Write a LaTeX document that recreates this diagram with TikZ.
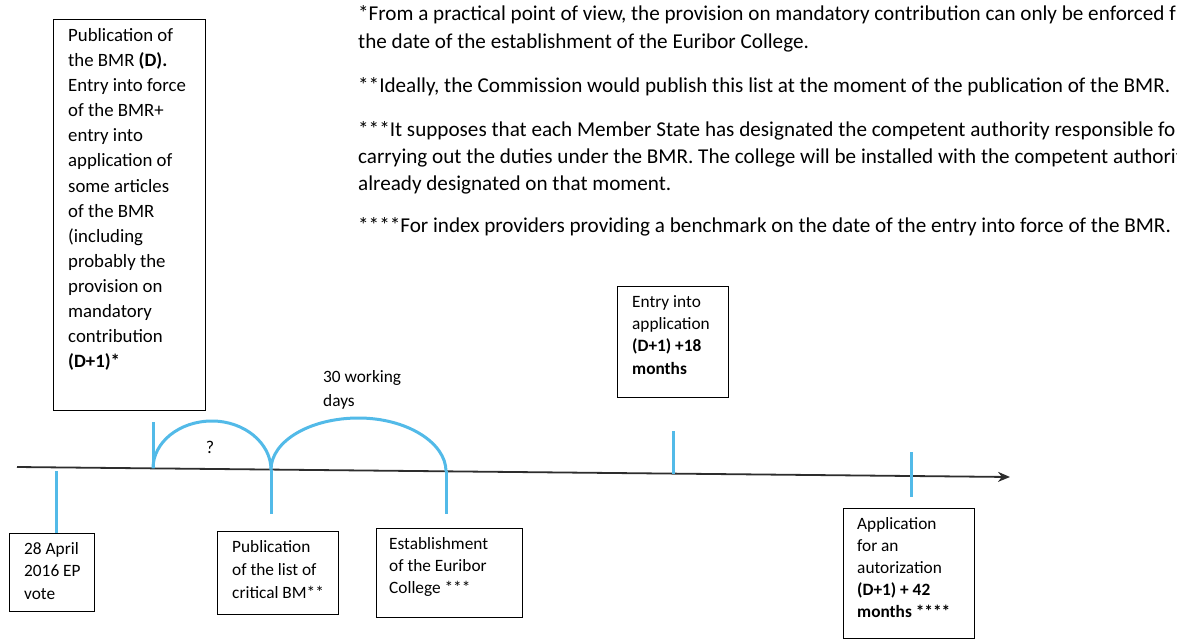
\documentclass[tikz,border=0pt]{standalone}
\usepackage{fontspec}
\setmainfont{Carlito}
\usetikzlibrary{arrows.meta}
\definecolor{tickblue}{RGB}{82,186,232}
\definecolor{axisgray}{RGB}{45,45,45}
\newcommand{\txtblock}[3]{{\fontsize{#1}{#2}\selectfont\begin{tabular}[t]{@{}l@{}}#3\end{tabular}}}
\begin{document}
\begin{tikzpicture}[x=1pt,y=-1pt,
  frame/.style={draw=black,line width=1.4pt,inner sep=0pt,anchor=north west},
  txt/.style={anchor=base west,inner sep=0pt},
  tick/.style={draw=tickblue,line width=3pt},
  axisline/.style={draw=axisgray,line width=1.8pt,-{Stealth[length=12pt,width=10pt]}}]
\useasboundingbox (0,0) rectangle (1177,640);
\fill[white] (0,0) rectangle (1177,640);

% footnotes
\node[txt] (fn1) at (358,20) {\txtblock{21.15pt}{28.5pt}{*From a practical point of view, the provision on mandatory contribution can only be enforced f\\the date of the establishment of the Euribor College.}};
\node[txt] (fn2) at (358,92) {\txtblock{21.15pt}{27.5pt}{**Ideally, the Commission would publish this list at the moment of the publication of the BMR.}};
\node[txt] (fn3) at (358,136) {\txtblock{21.15pt}{27.2pt}{***It supposes that each Member State has designated the competent authority responsible fo\\carrying out the duties under the BMR. The college will be installed with the competent authorit\\already designated on that moment.}};
\node[txt] (fn4) at (358,232) {\txtblock{21.15pt}{27.5pt}{****For index providers providing a benchmark on the date of the entry into force of the BMR.}};

% boxes
\node[frame,minimum width=152pt,minimum height=391pt] (big) at (53,19) {};
\node[txt] (bigt) at (68,41.4) {\txtblock{18.8pt}{25.1pt}{Publication of\\the BMR \textbf{(D).}\\Entry into force\\of the BMR+\\entry into\\application of\\some articles\\of the BMR\\(including\\probably the\\provision on\\mandatory\\contribution\\\textbf{(D+1)*}}};

\node[frame,minimum width=85pt,minimum height=78pt] (vote) at (9,533) {};
\node[txt] (votet) at (24,554) {\txtblock{17.3pt}{22.6pt}{28 April\\2016 EP\\vote}};

\node[frame,minimum width=121pt,minimum height=83pt] (list) at (217,531) {};
\node[txt] (listt) at (232,552) {\txtblock{17.3pt}{23pt}{Publication\\of the list of\\critical BM**}};

\node[frame,minimum width=146pt,minimum height=89pt] (coll) at (376,528) {};
\node[txt] (collt) at (389,549) {\txtblock{17.3pt}{22.2pt}{Establishment\\of the Euribor\\College ***}};

\node[frame,minimum width=111pt,minimum height=111pt] (entry) at (617,286) {};
\node[txt] (entryt) at (632,307) {\txtblock{17.3pt}{22.4pt}{Entry into\\application\\\textbf{(D+1) +18}\\\textbf{months}}};

\node[frame,minimum width=131pt,minimum height=130pt] (appl) at (843,508) {};
\node[txt] (applt) at (857,529) {\txtblock{17.3pt}{22pt}{Application\\for an\\autorization\\\textbf{(D+1) + 42}\\\textbf{months ****}}};

% labels
\node[txt] (days) at (323,382) {\txtblock{17.3pt}{24pt}{30 working\\days}};
\node[inner sep=0pt,font=\fontsize{18pt}{20pt}\selectfont] (q) at (210,447) {?};

% axis
\coordinate (ax0) at (17,467);
\coordinate (ax1) at (1010,477);
\draw[axisline] (ax0) -- (ax1);

% points on axis
\coordinate (pv) at (56,467.4);
\coordinate (pd) at (153,468.4);
\coordinate (pl) at (271,469.6);
\coordinate (pc) at (446,471.3);
\coordinate (pe) at (673,473.6);
\coordinate (pa) at (911,476);
\coordinate (top1) at (212,421);
\coordinate (top2) at (358.5,418);

% ticks
\draw[tick] ([yshift=-4pt]pv) -- (pv |- vote.north);
\draw[tick] (153,422) -- (pd);
\draw[tick] (pl) -- (271,514);
\draw[tick] (pc) -- (446,514);
\draw[tick] (673,431) -- (673,474);
\draw[tick] (911,452) -- (911,497);

% arcs
\draw[tick] (pd) .. controls +(0,-26.2) and +(-32.6,0) .. (top1) .. controls +(32.6,0) and +(0,-26.2) .. (pl);
\draw[tick] (pl) .. controls +(0,-28.5) and +(-48.3,0) .. (top2) .. controls +(48.3,0) and +(0,-28.5) .. (pc);
\end{tikzpicture}
\end{document}
